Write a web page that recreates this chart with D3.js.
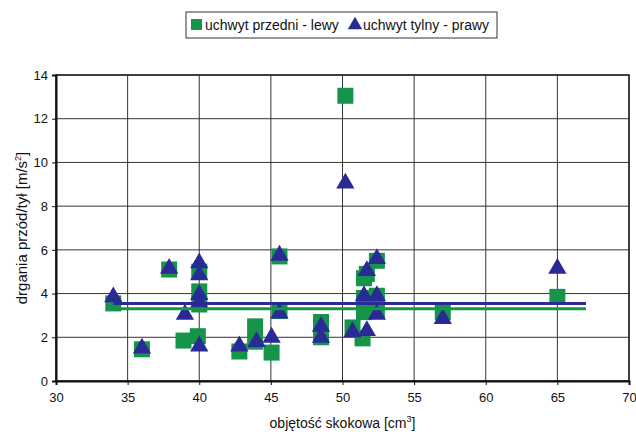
<!DOCTYPE html>
<html>
<head>
<meta charset="utf-8">
<script src="https://cdn.jsdelivr.net/npm/d3@7"></script>
<style>
  body { margin: 0; background: #fff; }
  text { font-family: "Liberation Sans", Arial, sans-serif; }
</style>
</head>
<body>
<div id="chart"></div>
<script>
// data
const frontX = [34, 36, 37.9, 38.9, 39.9, 40, 40, 40, 42.8, 43.9, 43.9, 45.05, 45.6, 45.6, 48.5, 48.5, 50.2, 50.7, 51.4, 51.7, 51.5, 52.4, 51.5, 52.4, 51.5, 52.4, 57, 65];
const frontY = [3.55, 1.45, 5.1, 1.85, 2.05, 5.0, 4.1, 3.5, 1.35, 2.5, 1.8, 1.3, 5.7, 3.2, 2.7, 2.0, 13.05, 2.45, 1.95, 4.9, 4.7, 5.5, 3.8, 3.9, 3.15, 3.2, 3.15, 3.85];
const backX = [34, 36, 37.9, 39, 40, 40, 40, 40, 40, 42.8, 44, 45.05, 45.6, 45.6, 48.5, 48.5, 50.2, 50.7, 51.7, 51.7, 52.4, 51.5, 52.4, 52.4, 57, 65];
const backY = [3.8, 1.45, 5.1, 3.0, 5.35, 4.8, 3.9, 3.55, 1.55, 1.55, 1.75, 1.95, 5.7, 3.05, 2.45, 1.95, 9.0, 2.2, 2.25, 5.0, 5.55, 3.85, 3.85, 3.0, 2.8, 5.1];
// mean lines
const lineX = [34, 67];
const frontMean = 3.3;
const backMean = 3.55;
const xTicks = [30, 35, 40, 45, 50, 55, 60, 65, 70];
const yTicks = [0, 2, 4, 6, 8, 10, 12, 14];

var W = 636, H = 434;
var margin = {left: 56, top: 75, right: 7, bottom: 53};
var width = W - margin.left - margin.right;
var height = H - margin.top - margin.bottom;
var green = "#16944a", blue = "#2a2a96";

const svg = d3.select("#chart").append("svg")
    .attr("width", W).attr("height", H);
const g = svg.append("g")
    .attr("transform", "translate(" + margin.left + "," + margin.top + ")");

var xScale = d3.scaleLinear().domain([30, 70]).range([0, width]);
var yScale = d3.scaleLinear().domain([0, 14]).range([height, 0]);

// grid
g.append("g").selectAll("line").data(xTicks).enter().append("line")
    .attr("x1", d => xScale(d)).attr("x2", d => xScale(d))
    .attr("y1", 0).attr("y2", height)
    .attr("stroke", "#333").attr("stroke-width", 1);
g.append("g").selectAll("line").data(yTicks).enter().append("line")
    .attr("x1", 0).attr("x2", width)
    .attr("y1", d => yScale(d)).attr("y2", d => yScale(d))
    .attr("stroke", "#333").attr("stroke-width", 1);
g.append("rect").attr("width", width).attr("height", height)
    .attr("fill", "none").attr("stroke", "#222").attr("stroke-width", 1.5);

// axes
var xAxis = g.append("g").attr("transform", "translate(0," + height + ")")
    .call(d3.axisBottom(xScale).tickValues(xTicks).tickSize(4).tickPadding(8));
var yAxis = g.append("g")
    .call(d3.axisLeft(yScale).tickValues(yTicks).tickSize(4).tickPadding(4));
[xAxis, yAxis].forEach(a => {
    a.select(".domain").attr("stroke", "#111").attr("stroke-width", 2);
    a.selectAll(".tick line").attr("stroke", "#111");
    a.selectAll("text").attr("font-size", 13).attr("fill", "#111")
        .style("font-family", "'Liberation Sans', Arial, sans-serif");
});

// markers
var sq = 16;
g.append("g").selectAll("rect").data(d3.range(frontX.length)).enter().append("rect")
    .attr("x", i => xScale(frontX[i]) - sq / 2)
    .attr("y", i => yScale(frontY[i]) - sq / 2)
    .attr("width", sq).attr("height", sq)
    .attr("fill", green);
var tri = d3.symbol().type(d3.symbolTriangle).size(145);
g.append("g").selectAll("path").data(d3.range(backX.length)).enter().append("path")
    .attr("d", tri)
    .attr("transform", i => "translate(" + xScale(backX[i]) + "," + (yScale(backY[i]) - 1) + ")")
    .attr("fill", blue);

// mean lines
g.append("line")
    .attr("x1", xScale(lineX[0])).attr("x2", xScale(lineX[1]))
    .attr("y1", yScale(frontMean)).attr("y2", yScale(frontMean))
    .attr("stroke", green).attr("stroke-width", 3);
g.append("line")
    .attr("x1", xScale(lineX[0])).attr("x2", xScale(lineX[1]))
    .attr("y1", yScale(backMean)).attr("y2", yScale(backMean))
    .attr("stroke", blue).attr("stroke-width", 3);

// axis titles
var xt = svg.append("text")
    .attr("x", margin.left + width / 2).attr("y", 428)
    .attr("text-anchor", "middle").attr("font-size", 14).attr("fill", "#111");
xt.append("tspan").text("objętość skokowa [cm");
xt.append("tspan").attr("font-size", 9).attr("dy", -6).text("3");
xt.append("tspan").attr("dy", 6).text("]");

var yt = svg.append("text")
    .attr("transform", "translate(27," + (margin.top + height / 2) + ") rotate(-90)")
    .attr("text-anchor", "middle").attr("font-size", 15).attr("fill", "#111");
yt.append("tspan").text("drgania przód/tył [m/s");
yt.append("tspan").attr("font-size", 9).attr("dy", -6).text("2");
yt.append("tspan").attr("dy", 6).text("]");

// legend
var lg = svg.append("g");
lg.append("rect").attr("x", 186).attr("y", 12).attr("width", 311).attr("height", 26)
    .attr("fill", "#fff").attr("stroke", "#333").attr("stroke-width", 1);
lg.append("rect").attr("x", 191).attr("y", 19).attr("width", 11).attr("height", 11).attr("fill", green);
lg.append("text").attr("x", 205).attr("y", 30).attr("font-size", 14).attr("fill", "#111")
    .text("uchwyt przedni - lewy");
lg.append("path").attr("d", d3.symbol().type(d3.symbolTriangle).size(90))
    .attr("transform", "translate(355,25)").attr("fill", blue);
lg.append("text").attr("x", 363).attr("y", 30).attr("font-size", 14).attr("fill", "#111")
    .text("uchwyt tylny - prawy");
</script>
</body>
</html>
